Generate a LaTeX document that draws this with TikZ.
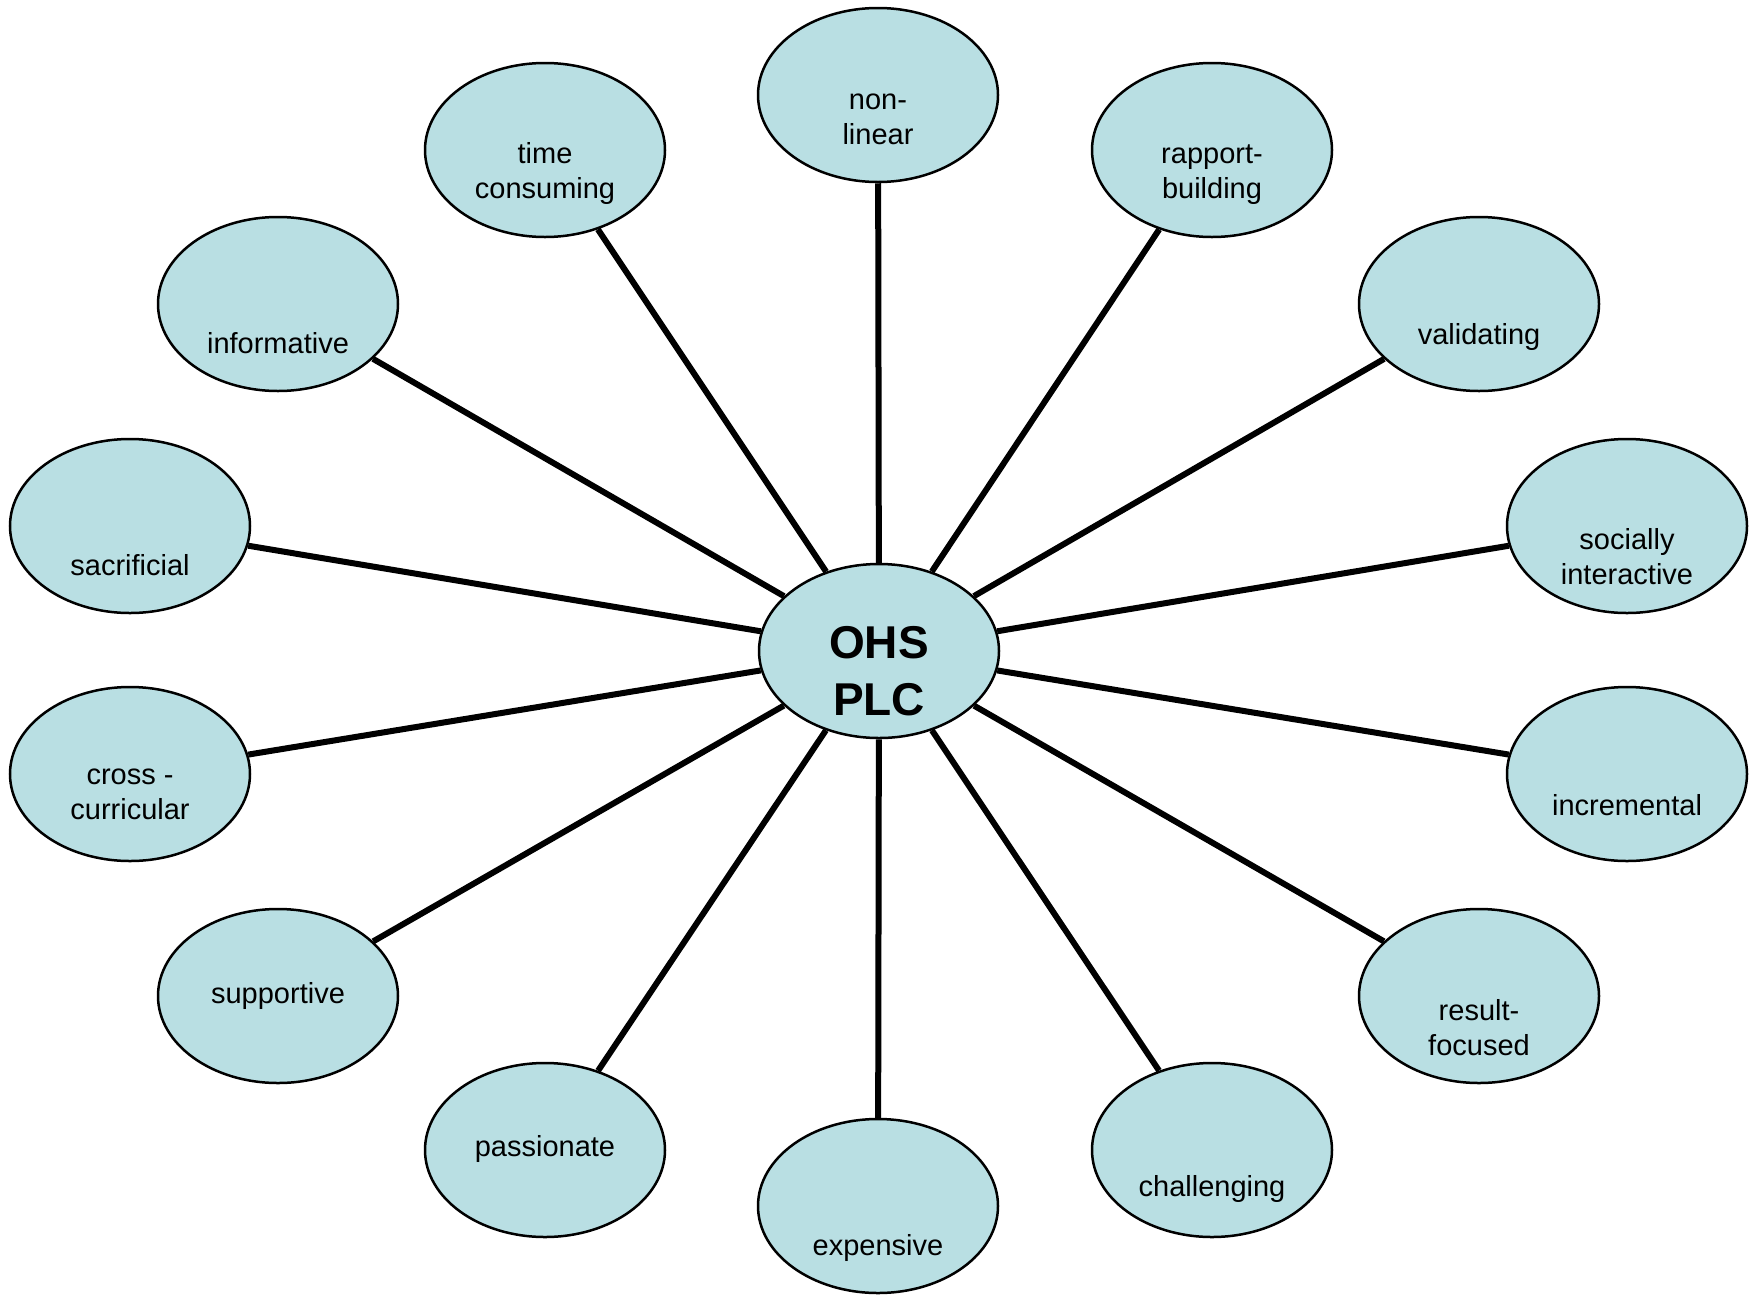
\documentclass[tikz,border=0pt]{standalone}
\usepackage{fontspec}
\setmainfont{Liberation Sans}
\usetikzlibrary{shapes.geometric,backgrounds}
\definecolor{bubblefill}{RGB}{185,223,227}
\tikzset{
  bubble/.style={ellipse, draw=black, line width=2.5pt, fill=bubblefill,
    minimum width=240pt, minimum height=174pt, inner sep=0pt},
  hubtext/.style={font=\fontsize{46}{57}\selectfont\bfseries, align=center, inner sep=0pt},
  txt/.style={font=\fontsize{29}{35}\selectfont, align=center, inner sep=0pt, yshift=-3.5pt},
  spoke/.style={line width=6pt, black}
}
\begin{document}
\begin{tikzpicture}[x=1pt,y=-1pt]
\useasboundingbox (0,0) rectangle (1759,1296);

% hub
\node[bubble] (hub) at (879,651) {};
\node[hubtext] (hub-t) at (879,671) {OHS\\PLC};

% surrounding bubbles
\node[bubble] (nonlinear) at (878,95) {};
\node[txt] (nonlinear-t) at (878,116) {non-\\linear};

\node[bubble] (time) at (545,150) {};
\node[txt] (time-t) at (545,170) {time\\consuming};

\node[bubble] (rapport) at (1212,150) {};
\node[txt] (rapport-t) at (1212,171) {rapport-\\building};

\node[bubble] (informative) at (278,304) {};
\node[txt] (informative-t) at (278,340) {informative};

\node[bubble] (validating) at (1479,304) {};
\node[txt] (validating-t) at (1479,333) {validating};

\node[bubble] (sacrificial) at (130,526) {};
\node[txt] (sacrificial-t) at (130,562) {sacrificial};

\node[bubble] (social) at (1627,526) {};
\node[txt] (social-t) at (1627,553) {socially\\interactive};

\node[bubble] (cross) at (130,774) {};
\node[txt] (cross-t) at (130,791) {cross -\\curricular};

\node[bubble] (incremental) at (1627,774) {};
\node[txt] (incremental-t) at (1627,802) {incremental};

\node[bubble] (supportive) at (278,996) {};
\node[txt] (supportive-t) at (278,992) {supportive};

\node[bubble] (result) at (1479,996) {};
\node[txt] (result-t) at (1479,1024) {result-\\focused};

\node[bubble] (passionate) at (545,1150) {};
\node[txt] (passionate-t) at (545,1145) {passionate};

\node[bubble] (challenging) at (1212,1150) {};
\node[txt] (challenging-t) at (1212,1185) {challenging};

\node[bubble] (expensive) at (878,1206) {};
\node[txt] (expensive-t) at (878,1244) {expensive};

% spokes from the hub
\begin{scope}[on background layer]
\foreach \n in {nonlinear,time,rapport,informative,validating,sacrificial,social,
                cross,incremental,supportive,result,passionate,challenging,expensive}
  \draw[spoke] (hub) -- (\n);
\end{scope}
\end{tikzpicture}
\end{document}
